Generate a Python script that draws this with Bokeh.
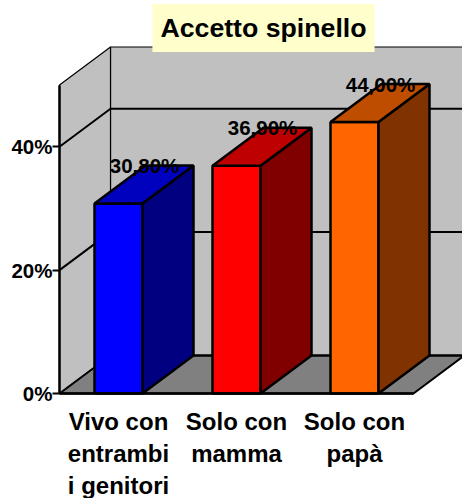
from bokeh.plotting import figure
from bokeh.models import Range1d, LinearAxis, FixedTicker, Label
from bokeh.core.properties import value
from bokeh.embed import file_html
from bokeh.resources import INLINE

title_text = "Accetto spinello"
categories = ["Vivo con\nentrambi\ni genitori", "Solo con\nmamma", "Solo con\npapà"]
values = [30.8, 36.9, 44.0]
value_labels = ["30,80%", "36,90%", "44,00%"]
y_ticks = [0, 20, 40]
y_tick_labels = ["0%", "20%", "40%"]
y_max = 50
front_colors = ["#0000ff", "#ff0000", "#ff6600"]
top_colors = ["#0000bf", "#bf0000", "#bf4d00"]
side_colors = ["#000080", "#800000", "#803300"]

FONT = "Liberation Sans"
W, H = 462, 498
PX_X, PX_Y = 118.0, 6.17
X0_PX, Y0_PX = 59, 105
DX, DY = 51 / PX_X, 38 / PX_Y
BW = 48 / PX_X
LEFT, RIGHT = -0.5, 2.5

p = figure(width=W, height=H, output_backend="svg", toolbar_location=None,
           x_range=Range1d(LEFT - X0_PX / PX_X, LEFT - X0_PX / PX_X + W / PX_X),
           y_range=Range1d(-Y0_PX / PX_Y, (H - Y0_PX) / PX_Y),
           x_axis_location=None, y_axis_location=None, min_border=0,
           background_fill_color=None, border_fill_color=None, outline_line_color=None)
p.grid.visible = False

# walls and floor
p.patch([LEFT + DX, RIGHT + DX + 1, RIGHT + DX + 1, LEFT + DX], [DY, DY, y_max + DY, y_max + DY],
        fill_color="#c0c0c0", line_color="black", line_width=1.2)
p.patch([LEFT, LEFT + DX, LEFT + DX, LEFT], [0, DY, y_max + DY, y_max],
        fill_color="#c0c0c0", line_color="black", line_width=1.2)
p.patch([LEFT, RIGHT, RIGHT + DX, LEFT + DX], [0, 0, DY, DY],
        fill_color="#808080", line_color="black", line_width=2)

# gridlines
for t in y_ticks[1:]:
    p.line([LEFT, LEFT + DX, RIGHT + DX + 1], [t, t + DY, t + DY], line_color="black", line_width=2)
p.line([LEFT + DX, RIGHT + DX + 1], [DY, DY], line_color="black", line_width=2)

# bars
for i, v in enumerate(values):
    l, r = i - BW / 2, i + BW / 2
    p.patch([l, r, r, l], [0, 0, v, v], fill_color=front_colors[i], line_color="black", line_width=2.5)
    p.patch([r, r + DX, r + DX, r], [0, DY, v + DY, v], fill_color=side_colors[i], line_color="black", line_width=2.5)
    p.patch([l, r, r + DX, l + DX], [v, v, v + DY, v + DY], fill_color=top_colors[i], line_color="black", line_width=2.5)

# value labels
p.text([i + 26 / PX_X for i in range(len(values))], [v + DY for v in values], text=value_labels,
       text_font=value(FONT), text_font_style="bold", text_font_size="20.5px",
       text_align="center", text_baseline="middle", text_color="black")

# axes
ya = LinearAxis(fixed_location=LEFT, bounds=(0, y_max), ticker=FixedTicker(ticks=y_ticks),
                major_label_overrides=dict(zip(y_ticks, y_tick_labels)),
                major_tick_out=7, major_tick_in=0, minor_tick_line_color=None,
                major_tick_line_width=2, axis_line_width=2.5, major_label_standoff=0,
                major_label_text_font=FONT, major_label_text_font_style="bold",
                major_label_text_font_size="20.5px", major_label_text_color="black")
p.add_layout(ya, "left")
xa = LinearAxis(fixed_location=0, bounds=(LEFT, RIGHT), ticker=FixedTicker(ticks=list(range(len(categories)))),
                major_label_overrides=dict(enumerate(categories)),
                major_tick_out=0, major_tick_in=0, minor_tick_line_color=None,
                axis_line_width=2.5, major_label_standoff=14,
                major_label_text_font=FONT, major_label_text_font_style="bold",
                major_label_text_font_size="24px", major_label_text_color="black",
                major_label_text_line_height=1.2)
p.add_layout(xa, "below")

# title
p.add_layout(Label(x=263, y=H - 27.5, x_units="screen", y_units="screen", text=title_text,
                   text_font=FONT, text_font_style="bold", text_font_size="26.7px", text_color="black",
                   text_align="center", text_baseline="middle",
                   background_fill_color="#ffffcc", padding=(8, 9)))

open("out.html", "w").write(file_html(p, INLINE))
